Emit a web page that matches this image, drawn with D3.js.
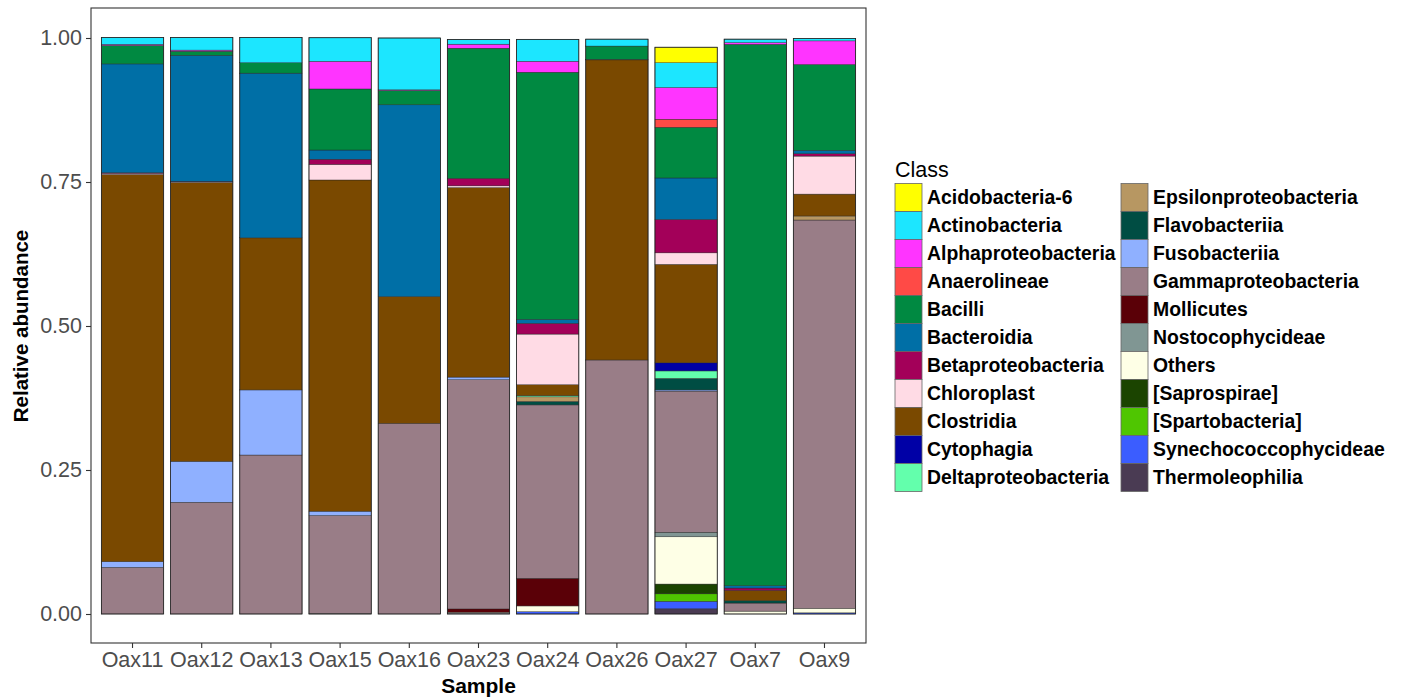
<!DOCTYPE html>
<html>
<head>
<meta charset="utf-8">
<script src="https://cdn.jsdelivr.net/npm/d3@7"></script>
<style>
  body { margin: 0; background: #fff; }
  svg { font-family: "Liberation Sans", Arial, Helvetica, sans-serif; }
</style>
</head>
<body>
<div id="main"></div>
<script>
// sample names on the x axis
const samples = ['Oax11', 'Oax12', 'Oax13', 'Oax15', 'Oax16', 'Oax23', 'Oax24', 'Oax26', 'Oax27', 'Oax7', 'Oax9'];

// legend order (first = top of each bar)
const classes = [
  'Acidobacteria-6', 'Actinobacteria', 'Alphaproteobacteria', 'Anaerolineae', 'Bacilli',
  'Bacteroidia', 'Betaproteobacteria', 'Chloroplast', 'Clostridia', 'Cytophagia',
  'Deltaproteobacteria', 'Epsilonproteobacteria', 'Flavobacteriia', 'Fusobacteriia',
  'Gammaproteobacteria', 'Mollicutes', 'Nostocophycideae', 'Others', '[Saprospirae]',
  '[Spartobacteria]', 'Synechococcophycideae', 'Thermoleophilia'
];

const classColors = [
  '#FFFF00', '#1CE6FF', '#FF34FF', '#FF4A46', '#008941',
  '#006FA6', '#A30059', '#FFDBE5', '#7A4900', '#0000A6',
  '#63FFAC', '#B79762', '#004D43', '#8FB0FF', '#997D87',
  '#5A0007', '#809693', '#FEFFE6', '#1B4400', '#4FC601',
  '#3B5DFF', '#4A3B53'
];

// relative abundance per sample, in class order above
const oax11 = [0, 0.012, 0.002, 0, 0.032, 0.189, 0.001, 0.002, 0.672, 0, 0, 0, 0, 0.010, 0.081, 0, 0, 0, 0, 0, 0, 0];
const oax12 = [0, 0.022, 0.002, 0, 0.007, 0.219, 0.001, 0.001, 0.484, 0, 0, 0, 0, 0.071, 0.194, 0, 0, 0, 0, 0, 0, 0];
const oax13 = [0, 0.044, 0, 0, 0.018, 0.286, 0, 0, 0.264, 0, 0, 0, 0, 0.113, 0.276, 0, 0, 0, 0, 0, 0, 0];
const oax15 = [0, 0.041, 0.048, 0, 0.106, 0.016, 0.009, 0.027, 0.575, 0, 0, 0, 0, 0.0075, 0.170, 0, 0, 0.001, 0, 0, 0, 0];
const oax16 = [0, 0.090, 0.001, 0, 0.025, 0.333, 0, 0, 0.220, 0, 0, 0, 0, 0, 0.331, 0, 0, 0, 0, 0, 0, 0];
const oax23 = [0, 0.008, 0.007, 0, 0.226, 0, 0.013, 0.003, 0.329, 0, 0, 0, 0, 0.0045, 0.398, 0.0058, 0, 0.002, 0, 0, 0.001, 0];
const oax24 = [0, 0.038, 0.019, 0, 0.429, 0.007, 0.0186, 0.088, 0.019, 0, 0.002, 0.008, 0.006, 0, 0.301, 0.048, 0, 0.010, 0, 0, 0.004, 0];
const oax26 = [0, 0.012, 0, 0, 0.023, 0, 0, 0.001, 0.521, 0, 0, 0, 0, 0, 0.441, 0, 0, 0, 0, 0, 0, 0];
const oax27 = [0.027, 0.043, 0.055, 0.014, 0.088, 0.072, 0.058, 0.020, 0.171, 0.014, 0.013, 0, 0.020, 0.002, 0.245, 0, 0.008, 0.082, 0.017, 0.013, 0.013, 0.009];
const oax7 = [0, 0.006, 0.003, 0, 0.940, 0.004, 0.004, 0, 0.018, 0, 0, 0, 0.004, 0, 0.014, 0, 0, 0.005, 0, 0, 0, 0];
const oax9 = [0, 0.004, 0.041, 0, 0.149, 0.006, 0.004, 0.066, 0.038, 0, 0, 0.007, 0, 0, 0.674, 0, 0, 0.008, 0, 0, 0.002, 0];

const yTicks = [0, 0.25, 0.5, 0.75, 1];

const abundance = [oax11, oax12, oax13, oax15, oax16, oax23, oax24, oax26, oax27, oax7, oax9];

const W = 1401, H = 698;
const panel = { left: 91, right: 866, top: 8, bottom: 643 };

const svg = d3.select('#main').append('svg')
  .attr('width', W)
  .attr('height', H);

const table = samples.map((s, i) => {
  const row = { sample: s };
  classes.forEach((c, j) => { row[c] = abundance[i][j]; });
  return row;
});

// first class sits on top, so stack keys in reverse
const stack = d3.stack().keys(classes.slice().reverse());
const series = stack(table);

const x = d3.scaleBand()
  .domain(samples)
  .range([panel.left, panel.right])
  .paddingInner(0.1)
  .paddingOuter(0.15);

const y = d3.scaleLinear()
  .domain([0, 1])
  .range([614, 38]);

const color = d3.scaleOrdinal().domain(classes).range(classColors);

// panel
svg.append('rect')
  .attr('x', panel.left)
  .attr('y', panel.top)
  .attr('width', panel.right - panel.left)
  .attr('height', panel.bottom - panel.top)
  .attr('fill', '#fff');

// bars
svg.append('g')
  .selectAll('g')
  .data(series)
  .enter().append('g')
    .attr('fill', (d) => color(d.key))
  .selectAll('rect')
  .data((d) => d.filter((p) => p[1] - p[0] > 0))
  .enter().append('rect')
    .attr('x', (d) => x(d.data.sample))
    .attr('width', x.bandwidth())
    .attr('y', (d) => y(d[1]))
    .attr('height', (d) => y(d[0]) - y(d[1]))
    .attr('stroke', '#222')
    .attr('stroke-width', 0.4);

// bar outlines
svg.append('g')
  .selectAll('rect')
  .data(abundance)
  .enter().append('rect')
    .attr('x', (d, i) => x(samples[i]))
    .attr('width', x.bandwidth())
    .attr('y', (d) => y(d3.sum(d)))
    .attr('height', (d) => y(0) - y(d3.sum(d)))
    .attr('fill', 'none')
    .attr('stroke', '#222')
    .attr('stroke-width', 0.8);

svg.append('rect')
  .attr('x', panel.left)
  .attr('y', panel.top)
  .attr('width', panel.right - panel.left)
  .attr('height', panel.bottom - panel.top)
  .attr('fill', 'none')
  .attr('stroke', '#333')
  .attr('stroke-width', 1.1);

// axes
const yAxis = svg.append('g')
  .attr('transform', 'translate(' + panel.left + ',0)')
  .call(d3.axisLeft(y).tickValues(yTicks).tickFormat(d3.format('.2f')).tickSize(5).tickPadding(4));
yAxis.select('.domain').remove();
yAxis.selectAll('line').attr('stroke', '#333').attr('stroke-width', 1.1);
yAxis.selectAll('text')
  .attr('fill', '#4D4D4D')
  .style('font-size', '21.5px')
  .style('font-family', '"Liberation Sans", Arial, sans-serif');

const xAxis = svg.append('g')
  .attr('transform', 'translate(0,' + panel.bottom + ')')
  .call(d3.axisBottom(x).tickSize(5).tickPadding(4));
xAxis.select('.domain').remove();
xAxis.selectAll('line').attr('stroke', '#333').attr('stroke-width', 1.1);
xAxis.selectAll('text')
  .attr('fill', '#4D4D4D')
  .attr('dy', null)
  .attr('y', 24)
  .style('font-size', '21.5px')
  .style('font-family', '"Liberation Sans", Arial, sans-serif');

// axis titles
svg.append('text')
  .attr('x', (panel.left + panel.right) / 2)
  .attr('y', 693)
  .attr('text-anchor', 'middle')
  .style('font-size', '21px')
  .style('font-weight', 'bold')
  .text('Sample');

svg.append('text')
  .attr('transform', 'translate(28,' + y(0.5) + ') rotate(-90)')
  .attr('text-anchor', 'middle')
  .style('font-size', '20.5px')
  .style('font-weight', 'bold')
  .text('Relative abundance');

// legend
const legend = svg.append('g');
legend.append('text')
  .attr('x', 895)
  .attr('y', 177)
  .style('font-size', '21.5px')
  .text('Class');

const keyW = 27, keyH = 28;
const items = legend.selectAll('.item')
  .data(classes)
  .enter().append('g')
    .attr('class', 'item')
    .attr('transform', (d, i) => 'translate(' + (i < 11 ? 895 : 1121) + ',' + (183.5 + (i % 11) * keyH) + ')');

items.append('rect')
  .attr('width', keyW)
  .attr('height', keyH)
  .attr('fill', (d) => color(d))
  .attr('stroke', '#666')
  .attr('stroke-width', 0.8);

items.append('text')
  .attr('x', keyW + 5)
  .attr('y', keyH / 2)
  .attr('dy', '0.36em')
  .style('font-size', '19.4px')
  .style('font-weight', 'bold')
  .text((d) => d);
</script>
</body>
</html>
